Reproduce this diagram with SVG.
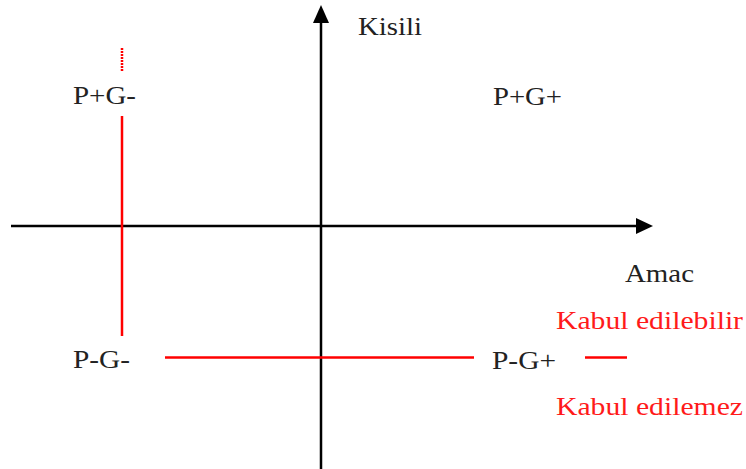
<svg xmlns="http://www.w3.org/2000/svg" width="746" height="469" viewBox="0 0 746 469">
<style>
.ax{stroke:#000;stroke-width:2.5;fill:none}
.rd{stroke:#ff0000;stroke-width:2.5;fill:none}
.t{font-family:"Liberation Serif","Times New Roman",serif;font-size:25px;fill:#222}
.r{font-family:"Liberation Serif","Times New Roman",serif;font-size:25px;fill:#ff1a1a}
</style>
<defs>
<marker id="ah" markerWidth="8" markerHeight="8" refX="7" refY="4" orient="auto" markerUnits="userSpaceOnUse" viewBox="0 0 8 8">
<path d="M0,0 L8,4 L0,8 Z" fill="#000"/>
</marker>
</defs>
<rect width="746" height="469" fill="#fff"/>
<g id="connectors">
<line class="ax" x1="11" y1="226" x2="636" y2="226"/>
<path d="M636,218 L653,226 L636,234 Z" fill="#000"/>
<line class="ax" x1="321" y1="469" x2="321" y2="22"/>
<path d="M313,23 L321,5 L329,23 Z" fill="#000"/>
<line class="rd" x1="122" y1="48" x2="122" y2="71" stroke-dasharray="2 1"/>
<line class="rd" x1="122" y1="116" x2="122" y2="336"/>
<line class="rd" x1="165" y1="357.5" x2="474" y2="357.5"/>
<line class="rd" x1="585" y1="357.5" x2="627" y2="357.5"/>
</g>
<g id="axis-y-label"><text class="t" x="358" y="35" textLength="64" lengthAdjust="spacingAndGlyphs">Kisili</text></g>
<g id="axis-x-label"><text class="t" x="625" y="282" textLength="69" lengthAdjust="spacingAndGlyphs">Amac</text></g>
<g id="q-pg-minus"><text class="t" x="73" y="104" textLength="63" lengthAdjust="spacingAndGlyphs">P+G-</text></g>
<g id="q-pg-plus"><text class="t" x="493" y="105" textLength="69" lengthAdjust="spacingAndGlyphs">P+G+</text></g>
<g id="q-mg-minus"><text class="t" x="73" y="368" textLength="57" lengthAdjust="spacingAndGlyphs">P-G-</text></g>
<g id="q-mg-plus"><text class="t" x="492" y="369" textLength="64" lengthAdjust="spacingAndGlyphs">P-G+</text></g>
<g id="legend-accept"><text class="r" x="556" y="329" textLength="187" lengthAdjust="spacingAndGlyphs">Kabul edilebilir</text></g>
<g id="legend-reject"><text class="r" x="556" y="415" textLength="187" lengthAdjust="spacingAndGlyphs">Kabul edilemez</text></g>
</svg>
